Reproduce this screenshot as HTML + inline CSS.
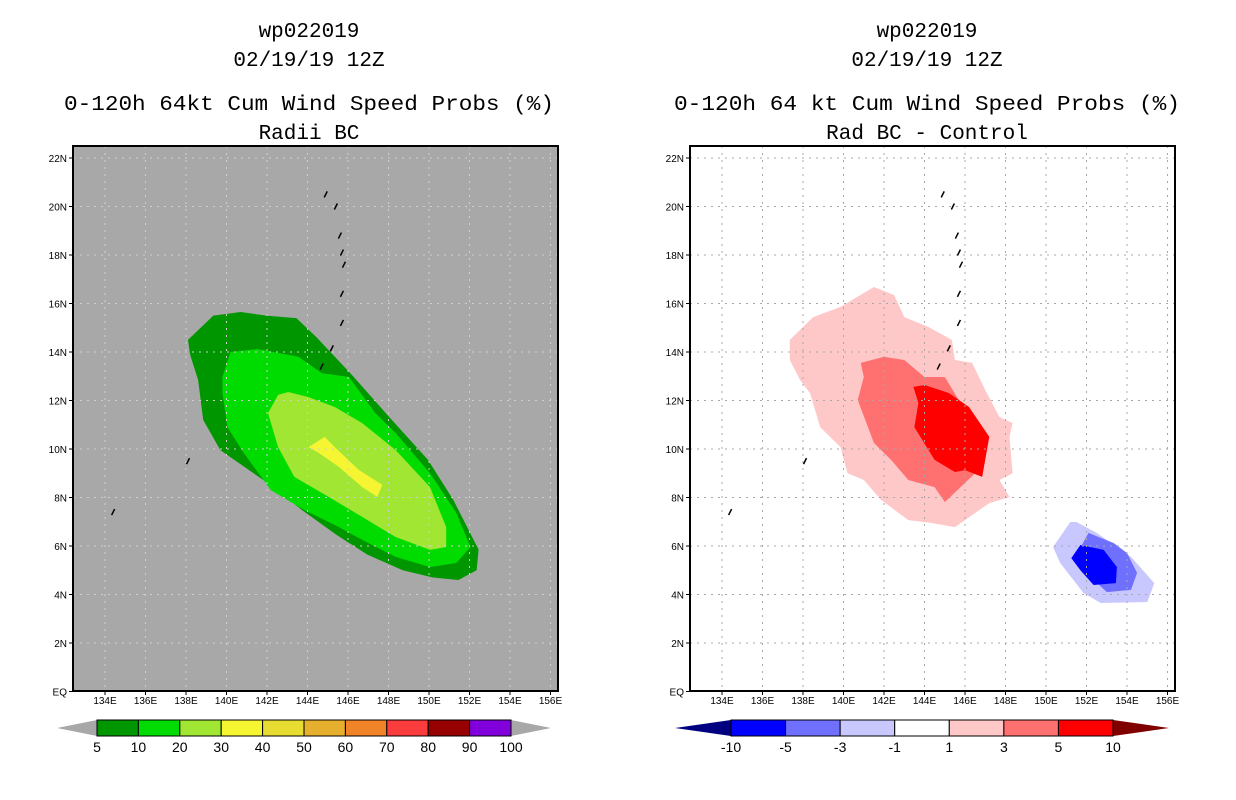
<!DOCTYPE html>
<html><head><meta charset="utf-8"><style>
html,body{margin:0;padding:0;background:#fff;}
svg{display:block;font-family:"Liberation Sans",sans-serif;}
</style></head><body>
<svg id="chart" width="1236" height="800" viewBox="0 0 1236 800" xmlns="http://www.w3.org/2000/svg">
<g id="titles" font-family="Liberation Mono, monospace" font-size="21" fill="#000" text-anchor="middle">
<text x="309" y="37">wp022019</text>
<text x="309" y="66">02/19/19 12Z</text>
<text x="309" y="110" textLength="490" lengthAdjust="spacingAndGlyphs">0-120h 64kt Cum Wind Speed Probs (%)</text>
<text x="309" y="139">Radii BC</text>
<text x="927" y="37">wp022019</text>
<text x="927" y="66">02/19/19 12Z</text>
<text x="927" y="110" textLength="506" lengthAdjust="spacingAndGlyphs">0-120h 64 kt Cum Wind Speed Probs (%)</text>
<text x="927" y="139">Rad BC - Control</text>
</g>
<g id="left"></g>
<g id="right"></g>
<g id="cbars"></g>
</svg>
<script>
const NS="http://www.w3.org/2000/svg";
// axis ticks
const lonTicks=[134,136,138,140,142,144,146,148,150,152,154,156];
const latTicks=[0,2,4,6,8,10,12,14,16,18,20,22];
const latLabels=["EQ","2N","4N","6N","8N","10N","12N","14N","16N","18N","20N","22N"];
// left panel contours (lon,lat)
const probLevels=["5","10","20","30"];
const probColors=["#009600","#00dc00","#a0e632","#f5f532"];
const prob5=[[138.1,14.5],[139.35,15.5],[140.7,15.65],[141.95,15.5],[143.45,15.4],[144.45,14.6],[146.2,13.05],[147.95,11.4],[149.95,9.55],[151.2,7.9],[152.45,5.85],[152.35,5.0],[151.45,4.6],[150.2,4.7],[148.7,5.0],[146.95,5.65],[145.45,6.45],[143.7,7.5],[142.2,8.5],[139.7,9.95],[138.85,11.2],[138.6,12.85],[138.2,13.9]];
const prob10=[[139.8,12.97],[140.2,14.0],[141.55,14.12],[143.55,13.8],[144.7,13.13],[146.05,12.97],[147.35,11.48],[148.35,10.66],[150.05,9.0],[151.35,7.36],[152.05,5.96],[151.35,5.3],[150.05,5.13],[148.35,5.55],[146.7,6.25],[145.55,6.78],[143.85,7.48],[142.2,8.3],[140.85,9.84],[140.05,10.9],[139.8,12.3]];
const prob20=[[142.05,11.48],[142.55,12.23],[143.05,12.35],[144.05,12.14],[145.35,11.73],[146.7,11.07],[148.35,9.96],[150.05,8.43],[150.85,6.78],[150.85,5.96],[150.05,5.84],[148.35,6.37],[146.7,7.2],[145.05,8.02],[143.35,8.85],[142.55,10.08]];
const prob30=[[144.05,10.08],[144.85,10.5],[145.35,10.08],[146.55,9.13],[147.7,8.52],[147.45,8.02],[146.7,8.43],[145.55,9.26],[144.55,9.84]];
// right panel difference contours
const diffPos1=[[137.35,14.5],[138.5,15.44],[139.85,15.86],[141.5,16.68],[142.5,16.35],[143.0,15.44],[144.2,15.03],[145.35,14.5],[145.5,13.67],[146.35,13.55],[147.0,12.43],[147.7,11.32],[148.35,11.07],[148.2,10.5],[148.35,9.0],[147.7,8.72],[148.2,8.02],[147.2,7.77],[145.5,6.78],[144.35,6.95],[143.2,7.07],[141.85,7.9],[141.0,8.72],[140.2,9.0],[139.85,10.08],[138.85,10.9],[138.35,12.3],[137.85,12.85],[137.35,13.67]];
const diffPos3=[[140.85,13.55],[142.0,13.8],[143.0,13.67],[144.0,12.97],[145.0,12.97],[146.0,11.6],[146.85,10.66],[146.85,10.08],[146.5,9.0],[145.0,7.81],[144.5,8.43],[143.2,8.72],[142.35,9.55],[141.5,10.25],[140.7,12.02],[141.0,12.97]];
const diffPos5=[[143.45,12.56],[144.0,12.64],[145.2,12.31],[146.2,11.73],[147.2,10.5],[146.85,8.85],[146.0,9.13],[145.5,9.05],[144.5,9.55],[143.5,10.9],[143.7,11.9]];
const diffNeg1=[[150.35,5.96],[151.2,6.99],[151.5,6.99],[152.5,6.54],[154.2,5.55],[155.35,4.47],[155.0,3.69],[152.7,3.65],[151.85,4.06],[150.7,5.3]];
const diffNeg3=[[151.45,5.55],[152.1,6.54],[153.35,6.12],[154.0,5.71],[154.5,4.89],[154.2,4.19],[153.0,4.1],[152.0,4.89]];
const diffNeg5=[[151.25,5.5],[151.7,6.04],[152.85,5.84],[153.5,5.13],[153.45,4.47],[152.35,4.39],[151.7,5.0]];
// islands
const islands=[[134.4,7.4],[138.1,9.5],[144.7,13.4],[145.2,14.15],[145.7,15.2],[145.7,16.4],[145.8,17.6],[145.7,18.1],[145.6,18.8],[145.4,20.0],[144.9,20.5]];
// colorbars
const probBarLabels=["5","10","20","30","40","50","60","70","80","90","100"];
const probBarColors=["#009600","#00dc00","#a0e632","#f5f532","#e6dc32","#e6af2d","#f08228","#fa3c3c","#960000","#8200dc"];
const diffBarLabels=["-10","-5","-3","-1","1","3","5","10"];
const diffBarColors=["#0000ff","#7070ff","#c8c8ff","#ffffff","#ffc8c8","#ff7070","#ff0000"];

function mk(tag,attrs,parent){const e=document.createElementNS(NS,tag);for(const k in attrs)e.setAttribute(k,attrs[k]);parent.appendChild(e);return e;}

function panel(g,x0,bg){
  const L=x0, R=x0+485, T=146, B=691;
  const xs=lon=>x0+32+(lon-134)*20.25;
  const ys=lat=>691.5-lat*24.25;
  const bgR=mk('rect',{x:L,y:T,width:R-L,height:B-T,fill:bg},g);
  
  
  const clipId='clip'+x0;
  const cp=mk('clipPath',{id:clipId},g);mk('rect',{x:L,y:T,width:R-L,height:B-T},cp);
  const fg=mk('g',{'clip-path':'url(#'+clipId+')'},g);
  
  
  return {L,R,T,B,xs,ys,fg};
}
function poly(p,pts,color,name){
  const e=mk('polygon',{points:pts.map(q=>p.xs(q[0]).toFixed(1)+','+p.ys(q[1]).toFixed(1)).join(' '),fill:color},p.fg);
  
  
}
function axesAndGrid(p,g,gridColor){
  lonTicks.forEach(lon=>{
    const x=p.xs(lon);
    const l=mk('line',{x1:x,x2:x,y1:p.T,y2:p.B,stroke:gridColor,'stroke-width':1,'stroke-dasharray':'2,5'},p.fg);
    
    
    const t=mk('text',{x:x,y:p.B+13,'font-size':10,'text-anchor':'middle'},g);t.textContent=lon+'E';
    
    
    mk('line',{x1:x,x2:x,y1:p.B,y2:p.B+4,stroke:'#000'},g);
  });
  latTicks.forEach((lat,i)=>{
    const y=p.ys(lat);
    if(lat>0){const l=mk('line',{x1:p.L,x2:p.R,y1:y,y2:y,stroke:gridColor,'stroke-width':1,'stroke-dasharray':'2,5'},p.fg);
    
    }
    const t=mk('text',{x:p.L-6,y:y+4,'font-size':10,'text-anchor':'end'},g);t.textContent=latLabels[i];
    
    
    mk('line',{x1:p.L-4,x2:p.L,y1:y,y2:y,stroke:'#000'},g);
  });
  islands.forEach(q=>{
    const x=p.xs(q[0]), y=p.ys(q[1]);
    const e=mk('line',{x1:x-1.5,y1:y+3,x2:x+1.5,y2:y-3,stroke:'#000','stroke-width':1.5},p.fg);
    
    
  });
  const f=mk('rect',{x:p.L,y:p.T,width:p.R-p.L,height:p.B-p.T,fill:'none',stroke:'#000','stroke-width':2},g);
  
  
}
const gl=document.getElementById('left'), gr=document.getElementById('right');
const pl=panel(gl,73,'#a8a8a8');
[prob5,prob10,prob20,prob30].forEach((pts,i)=>poly(pl,pts,probColors[i],'prob-contour-'+probLevels[i]));
axesAndGrid(pl,gl,'#cfcfcf');
const pr=panel(gr,690,'#ffffff');
poly(pr,diffPos1,'#ffc8c8','diff-contour-pos1');
poly(pr,diffPos3,'#ff7070','diff-contour-pos3');
poly(pr,diffPos5,'#ff0000','diff-contour-pos5');
poly(pr,diffNeg1,'#c8c8ff','diff-contour-neg1');
poly(pr,diffNeg3,'#7070ff','diff-contour-neg3');
poly(pr,diffNeg5,'#0000ff','diff-contour-neg5');
axesAndGrid(pr,gr,'#a8a8a8');

function colorbar(g,x0,x1,colors,labels,leftTri,rightTri,triW,name){
  const y0=720,y1=736,n=colors.length,w=(x1-x0)/n;
  const cb=mk('g',{},g);
  
  
  const a=mk('polygon',{points:`${x0},${y0} ${x0-triW},${(y0+y1)/2} ${x0},${y1}`,fill:leftTri},cb);
  
  
  const b=mk('polygon',{points:`${x1},${y0} ${x1+triW},${(y0+y1)/2} ${x1},${y1}`,fill:rightTri},cb);
  
  
  colors.forEach((c,i)=>{
    const r=mk('rect',{x:x0+i*w,y:y0,width:w,height:y1-y0,fill:c,stroke:'#000','stroke-width':1},cb);
    
    
  });
  labels.forEach((s,i)=>{
    const t=mk('text',{x:x0+i*w,y:y1+16,'font-size':14,'text-anchor':'middle'},cb);t.textContent=s;
    
    
  });
}
const cbg=document.getElementById('cbars');
colorbar(cbg,97,511,probBarColors,probBarLabels,'#a8a8a8','#a8a8a8',40,'prob-colorbar');
colorbar(cbg,731,1113,diffBarColors,diffBarLabels,'#000080','#800000',56,'diff-colorbar');
</script>
</body></html>
